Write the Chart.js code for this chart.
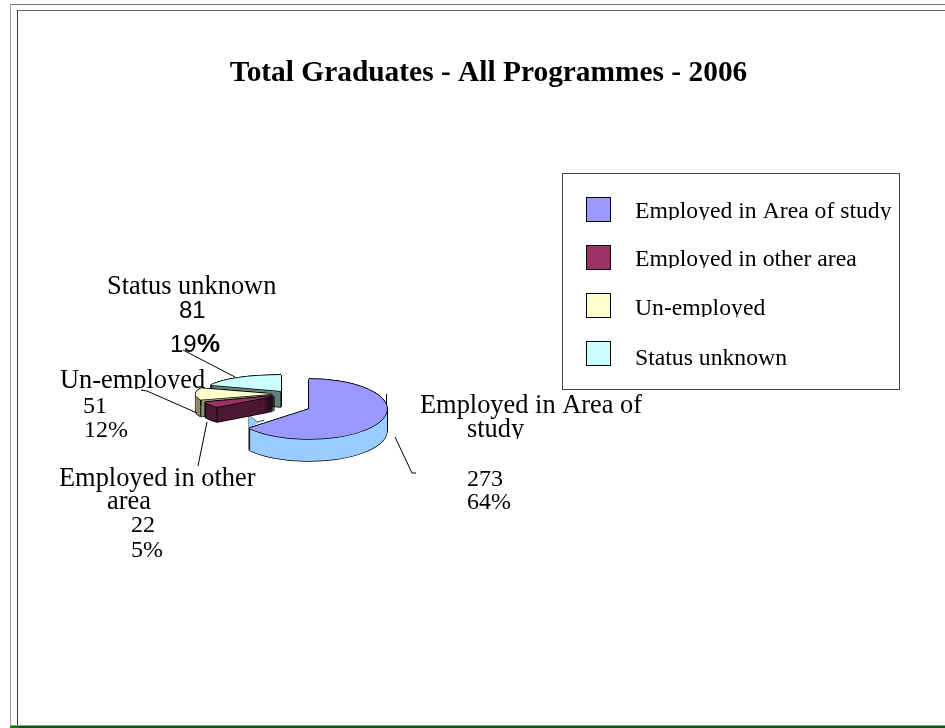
<!DOCTYPE html>
<html>
<head>
<meta charset="utf-8">
<title>Total Graduates - All Programmes - 2006</title>
<script src="https://cdn.jsdelivr.net/npm/chart.js@4/dist/chart.umd.min.js"></script>
<style>
    html, body { margin: 0; padding: 0; background: #fff; overflow: hidden; }
    #wrap { position: relative; width: 945px; height: 728px; }
    #wrap canvas { position: absolute; left: 0; top: 0; }
    .rule { position: absolute; }
</style>
</head>
<body>
<div id="wrap">
    <!-- page frame -->
    <div class="rule" style="left:10px;top:4px;right:0;height:1px;background:#777"></div>
    <div class="rule" style="left:18px;top:10px;right:0;height:1px;background:#666"></div>
    <div class="rule" style="left:10px;top:4px;width:1px;height:722px;background:#999"></div>
    <div class="rule" style="left:17px;top:10px;width:1px;height:716px;background:#333"></div>
    <div class="rule" style="left:10px;top:725px;right:0;height:1px;background:#999"></div>
    <div class="rule" style="left:10px;top:726px;right:0;height:2px;background:#005a00"></div>
    <div class="rule" style="left:10px;top:726px;width:8px;height:2px;background:#008000"></div>
    <canvas id="chart" width="945" height="728"></canvas>
</div>
<script>
const chartTitle = 'Total Graduates - All Programmes - 2006';
const categories = ['Employed in Area of study', 'Employed in other area', 'Un-employed', 'Status unknown'];
const graduates = [273, 22, 51, 81];
const shares = ['64%', '5%', '12%', '19%'];
const topColors = ['#9999ff', '#993366', '#ffffcc', '#ccffff'];
const wallColors = ['#99ccff', '#4d1933', '#8f8f6b', '#668080'];

// where each slice sits once tilted: centre, squash and wall height
const sliceViews = [
    {cx: 309, cy: 409, sx: 1, sy: 0.385, depth: 22},
    {cx: 274, cy: 396, sx: 0.95, sy: 0.22, depth: 15},
    {cx: 272, cy: 394, sx: 0.98, sy: 0.2, depth: 17},
    {cx: 281, cy: 391, sx: 0.97, sy: 0.205, depth: 16}
];
const paintOrder = [0, 3, 2, 1];

const SERIF = '"Liberation Serif"';
const SANS = '"Liberation Sans"';
const nameFont = '26.4px ' + SERIF;
const numberFont = '24px ' + SERIF;

const callouts = [
    {text: 'Status unknown', x: 107, y: 293.5, font: nameFont},
    {text: String(graduates[3]), x: 179, y: 318, font: '24px ' + SANS},
    {text: '19', x: 170, y: 352, font: '24px ' + SANS},
    {text: '%', x: 197, y: 352, font: 'bold 26px ' + SANS},
    {text: 'Un-employed', x: 60, y: 388, font: nameFont, clip: 389},
    {text: String(graduates[2]), x: 83, y: 413, font: numberFont},
    {text: shares[2], x: 84, y: 437, font: numberFont},
    {text: 'Employed in other', x: 59, y: 486, font: nameFont},
    {text: 'area', x: 107, y: 509, font: nameFont},
    {text: String(graduates[1]), x: 131, y: 532, font: numberFont},
    {text: shares[1], x: 131, y: 557, font: numberFont},
    {text: 'Employed in Area of', x: 420, y: 413, font: nameFont},
    {text: 'study', x: 467, y: 437, font: nameFont, clip: 439},
    {text: String(graduates[0]), x: 467, y: 486, font: numberFont},
    {text: shares[0], x: 467, y: 509, font: numberFont}
];

const leaderLines = [
    [[183, 350], [235, 377]],
    [[141, 390], [147, 391], [197, 413]],
    [[198, 466], [207, 422]],
    [[395, 437], [412, 473], [416, 473]]
];

const legendBox = {left: 562, top: 173, right: 899, bottom: 389};
const legendRows = [
    {swatchY: 197, baseline: 218, clip: 220},
    {swatchY: 245, baseline: 266, clip: 268},
    {swatchY: 293, baseline: 315, clip: 317},
    {swatchY: 341, baseline: 365, clip: 367}
];

function paintArc(ctx, arc, view, ox, oy, color) {
    const resolved = arc.options;
    arc.options = Object.create(resolved, {
        backgroundColor: {value: color},
        borderWidth: {value: 0}
    });
    ctx.save();
    ctx.translate(view.cx + ox, view.cy + oy);
    ctx.scale(view.sx, view.sy);
    ctx.translate(-arc.x, -arc.y);
    arc.draw(ctx);
    ctx.restore();
    arc.options = resolved;
}

// outline is four shifted black copies so it stays even under the squash
const OUTLINE = [[-0.7, 0], [0.7, 0], [0, -0.7], [0, 0.7]];

function rimPoint(arc, view, angle) {
    return [
        view.cx + Math.cos(angle) * arc.outerRadius * view.sx,
        view.cy + Math.sin(angle) * arc.outerRadius * view.sy
    ];
}

function wallEdges(ctx, arc, view) {
    const points = [
        [view.cx, view.cy],
        rimPoint(arc, view, arc.startAngle),
        rimPoint(arc, view, arc.endAngle)
    ];
    ctx.strokeStyle = '#000';
    ctx.lineWidth = 1;
    points.forEach(([px, py]) => {
        ctx.beginPath();
        ctx.moveTo(px, py);
        ctx.lineTo(px, py + view.depth);
        ctx.stroke();
    });
}

// the big slice shows a bit of inner wall past its cut edge and a rim tick on the far right
function bigSliceSeams(ctx, arc, view) {
    const [ex, ey] = rimPoint(arc, view, arc.endAngle);
    ctx.fillStyle = wallColors[0];
    ctx.strokeStyle = '#000';
    ctx.lineWidth = 1;
    ctx.beginPath();
    ctx.moveTo(ex, ey);
    ctx.lineTo(ex, ey - 13);
    ctx.lineTo(ex + 8, ey - 6);
    ctx.lineTo(ex + 15, ey - 8);
    ctx.stroke();
    ctx.fill();
    ctx.beginPath();
    ctx.moveTo(view.cx + arc.outerRadius - 0.5, view.cy - 15);
    ctx.lineTo(view.cx + arc.outerRadius - 0.5, view.cy);
    ctx.stroke();
}

const tiltedPie = {
    id: 'tiltedPie',
    beforeDatasetsDraw(chart) {
        const ctx = chart.ctx;
        const arcs = chart.getDatasetMeta(0).data;
        bigSliceSeams(ctx, arcs[0], sliceViews[0]);
        paintOrder.forEach(i => {
            const arc = arcs[i];
            const view = sliceViews[i];
            for (let d = view.depth; d >= 0; d--) {
                OUTLINE.forEach(([ox, oy]) => paintArc(ctx, arc, view, ox, oy + d, '#000'));
            }
            for (let d = view.depth; d >= 1; d--) {
                paintArc(ctx, arc, view, 0, d, wallColors[i]);
            }
            wallEdges(ctx, arc, view);
            OUTLINE.forEach(([ox, oy]) => paintArc(ctx, arc, view, ox, oy, '#000'));
            paintArc(ctx, arc, view, 0, 0, topColors[i]);
        });
        return false;
    }
};

const annotations = {
    id: 'annotations',
    afterDraw(chart) {
        const ctx = chart.ctx;
        ctx.save();

        ctx.strokeStyle = '#000';
        ctx.lineWidth = 1;
        leaderLines.forEach(points => {
            ctx.beginPath();
            points.forEach(([x, y], i) => i ? ctx.lineTo(x, y) : ctx.moveTo(x, y));
            ctx.stroke();
        });

        ctx.fillStyle = '#000';
        ctx.textBaseline = 'alphabetic';
        callouts.forEach(line => {
            ctx.save();
            if (line.clip) {
                ctx.beginPath();
                ctx.rect(0, 0, chart.width, line.clip);
                ctx.clip();
            }
            ctx.font = line.font;
            ctx.fillText(line.text, line.x, line.y);
            ctx.restore();
        });

        // legend with its box
        ctx.strokeStyle = '#444';
        ctx.strokeRect(legendBox.left + 0.5, legendBox.top + 0.5,
            legendBox.right - legendBox.left, legendBox.bottom - legendBox.top);
        categories.forEach((name, i) => {
            const row = legendRows[i];
            ctx.fillStyle = topColors[i];
            ctx.fillRect(586, row.swatchY, 24, 24);
            ctx.strokeStyle = '#000';
            ctx.strokeRect(586.5, row.swatchY + 0.5, 24, 24);
            ctx.save();
            ctx.beginPath();
            ctx.rect(0, 0, chart.width, row.clip);
            ctx.clip();
            ctx.fillStyle = '#000';
            ctx.font = '23.7px ' + SERIF;
            ctx.fillText(name, 635, row.baseline);
            ctx.restore();
        });
        ctx.restore();
    }
};

new Chart(document.getElementById('chart'), {
    type: 'pie',
    data: {
        labels: categories,
        datasets: [{
            data: graduates,
            backgroundColor: topColors,
            borderWidth: 0,
            radius: 78
        }]
    },
    options: {
        responsive: false,
        animation: false,
        events: [],
        layout: {padding: {left: 32}},
        plugins: {
            legend: {display: false},
            tooltip: {enabled: false},
            title: {
                display: true,
                text: chartTitle,
                color: '#000',
                font: {family: SERIF, size: 29.4, weight: 'bold'},
                padding: {top: 56, bottom: 0}
            }
        }
    },
    plugins: [tiltedPie, annotations]
});
</script>
</body>
</html>
